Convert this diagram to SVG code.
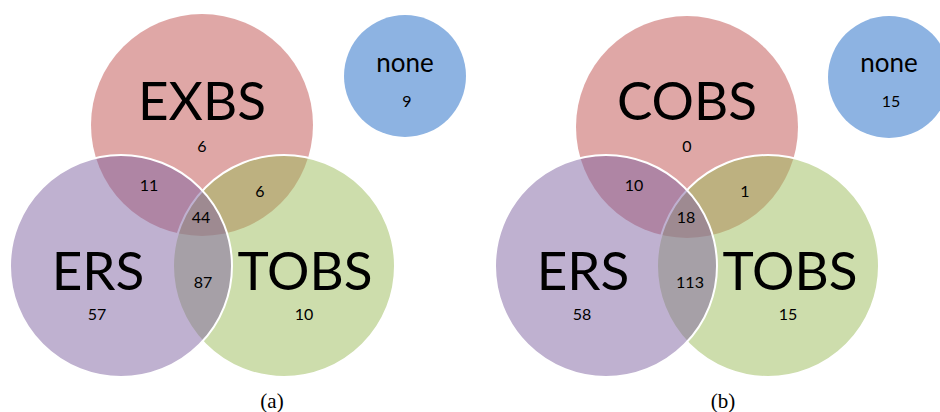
<svg xmlns="http://www.w3.org/2000/svg" width="940" height="412" viewBox="0 0 940 412">
<style>
.red{fill:#C0504D;fill-opacity:.5}
.grn{fill:#9BBB59;fill-opacity:.5;stroke:#fff;stroke-width:2}
.pur{fill:#8064A2;fill-opacity:.5;stroke:#fff;stroke-width:2}
.blu{fill:#8DB3E2}
text{font-family:Lato,"Open Sans","Liberation Sans",sans-serif;fill:#000;text-anchor:middle}
.big{font-size:53px}
.num{font-size:16px}
.none{font-size:26px}
.cap{font-family:"Liberation Serif","Times New Roman",serif;font-size:21px}
</style>
<g id="diagram-a">
  <g id="a-EXBS"><circle class="red" cx="202" cy="125" r="111"/><text class="big" x="202" y="120">EXBS</text></g>
  <g id="a-TOBS"><circle class="grn" cx="284" cy="266" r="111"/><text class="big" x="305" y="290">TOBS</text></g>
  <g id="a-ERS"><circle class="pur" cx="121" cy="266" r="111"/><text class="big" x="98" y="290">ERS</text></g>
  <g id="a-none"><circle class="blu" cx="405" cy="76" r="61"/><text class="none" x="405" y="72">none</text><text class="num" x="407" y="107">9</text></g>
  <g id="a-counts">
    <text class="num" x="202" y="152">6</text>
    <text class="num" x="149" y="191">11</text>
    <text class="num" x="260" y="197">6</text>
    <text class="num" x="201" y="223">44</text>
    <text class="num" x="203" y="288">87</text>
    <text class="num" x="97" y="320">57</text>
    <text class="num" x="304" y="320">10</text>
  </g>
  <text class="cap" x="272" y="408">(a)</text>
</g>
<g id="diagram-b">
  <g id="b-COBS"><circle class="red" cx="687" cy="127" r="111"/><text class="big" x="687" y="120">COBS</text></g>
  <g id="b-TOBS"><circle class="grn" cx="768" cy="266" r="111"/><text class="big" x="790" y="290">TOBS</text></g>
  <g id="b-ERS"><circle class="pur" cx="606" cy="266" r="111"/><text class="big" x="583" y="290">ERS</text></g>
  <g id="b-none"><circle class="blu" cx="889" cy="77" r="61"/><text class="none" x="889" y="72">none</text><text class="num" x="891" y="107">15</text></g>
  <g id="b-counts">
    <text class="num" x="687" y="152">0</text>
    <text class="num" x="634" y="191">10</text>
    <text class="num" x="745" y="197">1</text>
    <text class="num" x="686" y="223">18</text>
    <text class="num" x="690" y="288">113</text>
    <text class="num" x="582" y="320">58</text>
    <text class="num" x="788" y="320">15</text>
  </g>
  <text class="cap" x="723" y="408">(b)</text>
</g>
<g id="connectors"/>
</svg>
